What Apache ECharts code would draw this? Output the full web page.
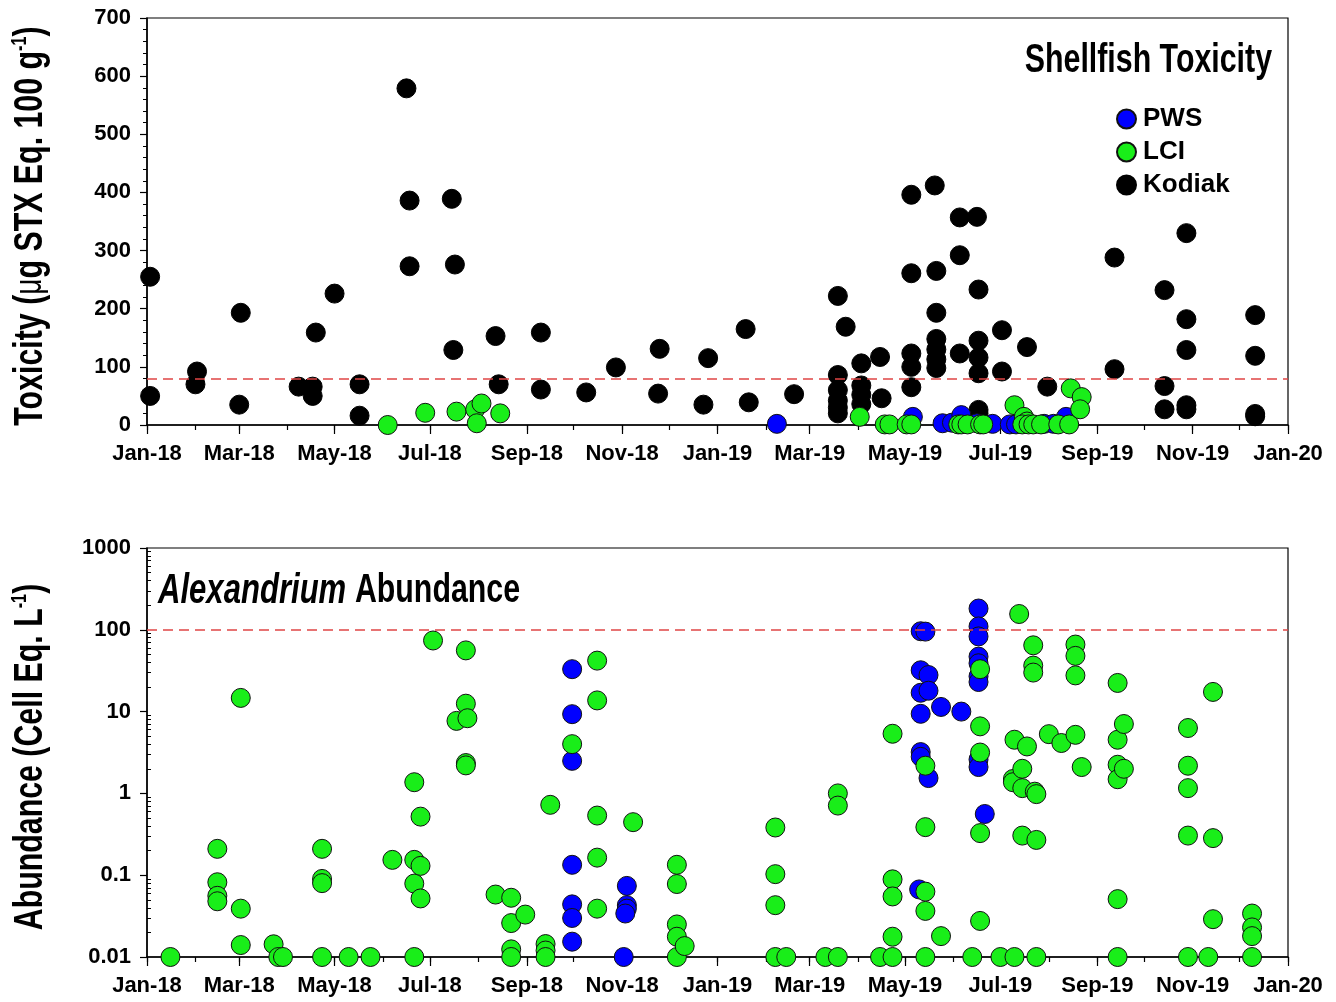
<!DOCTYPE html>
<html><head><meta charset="utf-8">
<script src="https://cdn.jsdelivr.net/npm/echarts@6/dist/echarts.min.js"></script>
<style>html,body{margin:0;padding:0;background:#fff}#c{width:1336px;height:1002px}</style>
</head><body><div id="c"></div>
<script>
// ---------- axis ticks / labels ----------
const monthTicks = ['2018-01-01','2018-02-01','2018-03-01','2018-04-01','2018-05-01','2018-06-01','2018-07-01','2018-08-01','2018-09-01','2018-10-01','2018-11-01','2018-12-01',
  '2019-01-01','2019-02-01','2019-03-01','2019-04-01','2019-05-01','2019-06-01','2019-07-01','2019-08-01','2019-09-01','2019-10-01','2019-11-01','2019-12-01','2020-01-01'];
const labelDates = ['2018-01-01','2018-03-01','2018-05-01','2018-07-01','2018-09-01','2018-11-01','2019-01-01','2019-03-01','2019-05-01','2019-07-01','2019-09-01','2019-11-01','2020-01-01'];
const labelTexts = ['Jan-18','Mar-18','May-18','Jul-18','Sep-18','Nov-18','Jan-19','Mar-19','May-19','Jul-19','Sep-19','Nov-19','Jan-20'];
const toxTicks = [0,100,200,300,400,500,600,700];
const abTicks = [0.01,0.1,1,10,100,1000];
const abTickLabels = ['0.01','0.1','1','10','100','1000'];
const abMinorTicks = [0.02,0.03,0.04,0.05,0.06,0.07,0.08,0.09,0.2,0.3,0.4,0.5,0.6,0.7,0.8,0.9,2,3,4,5,6,7,8,9,20,30,40,50,60,70,80,90,200,300,400,500,600,700,800,900];
const toxLimit = 80;
const abLimit = 100;

// ---------- Shellfish toxicity ----------
const kodiakDates = ['2018-01-03','2018-01-03','2018-02-02','2018-02-01','2018-03-02','2018-03-01','2018-04-08','2018-04-17','2018-04-17','2018-04-19',
  '2018-05-01','2018-05-17','2018-05-17','2018-06-16','2018-06-18','2018-06-18','2018-07-15','2018-07-17','2018-07-16','2018-08-12','2018-08-14',
  '2018-09-10','2018-09-10','2018-10-09','2018-10-28','2018-11-25','2018-11-24','2018-12-26','2018-12-23','2019-01-19','2019-01-21','2019-02-19',
  '2019-03-19','2019-03-19','2019-03-19','2019-03-19','2019-03-19','2019-03-19','2019-03-24',
  '2019-04-03','2019-04-03','2019-04-03','2019-04-03','2019-04-15','2019-04-16',
  '2019-05-05','2019-05-05','2019-05-05','2019-05-05','2019-05-05','2019-05-20',
  '2019-05-21','2019-05-21','2019-05-21','2019-05-21','2019-05-21','2019-05-21',
  '2019-06-05','2019-06-05','2019-06-05','2019-06-16','2019-06-17','2019-06-17','2019-06-17','2019-06-17','2019-06-17','2019-06-17',
  '2019-07-02','2019-07-02','2019-07-18','2019-07-31','2019-09-12','2019-09-12',
  '2019-10-14','2019-10-14','2019-10-14','2019-10-28','2019-10-28','2019-10-28','2019-10-28','2019-10-28',
  '2019-12-11','2019-12-11','2019-12-11','2019-12-11'];
const kodiakTox = [255,50,92,70,193,35,66,66,50,159,
  226,70,16,579,386,273,389,276,129,153,70,
  159,61,56,99,131,54,115,35,165,39,53,
  222,86,60,42,30,20,169,
  106,68,52,36,117,46,
  396,261,123,100,65,412,
  265,193,148,130,113,98,
  357,292,123,358,233,145,116,89,26,20,
  163,92,134,66,288,96,
  232,67,27,330,182,129,34,27,
  189,119,19,15];

const pwsToxDates = ['2019-02-08','2019-05-06','2019-05-25','2019-05-31','2019-06-06','2019-06-16','2019-06-26','2019-07-07','2019-07-11','2019-07-29','2019-08-04','2019-08-12'];
const pwsTox = [2,14,3,4,17,3,2,1,1,2,2,14];

const lciToxDates = ['2018-06-04','2018-06-28','2018-07-18','2018-07-30','2018-08-03','2018-07-31','2018-08-15',
  '2019-04-02','2019-04-18','2019-04-21','2019-05-02','2019-05-05','2019-06-04','2019-06-06','2019-06-10','2019-06-18','2019-06-20',
  '2019-07-10','2019-07-16','2019-07-18','2019-07-15','2019-07-19','2019-07-22','2019-07-27','2019-08-07','2019-08-14','2019-08-15','2019-08-22','2019-08-21'];
const lciTox = [0,21,23,27,37,3,20,
  14,1,1,1,1,1,1,1,1,1,
  34,14,6,1,1,1,1,1,1,63,48,27];

// ---------- Alexandrium abundance ----------
const pwsAbDates = ['2018-09-30','2018-09-30','2018-09-30','2018-09-30','2018-09-30','2018-09-30','2018-09-30',
  '2018-11-04','2018-11-04','2018-11-04','2018-11-03','2018-11-02',
  '2019-05-11','2019-05-11','2019-05-11','2019-05-11','2019-05-11','2019-05-11','2019-05-14','2019-05-16','2019-05-16','2019-05-16','2019-05-10',
  '2019-05-24','2019-06-06',
  '2019-06-17','2019-06-17','2019-06-17','2019-06-17','2019-06-17','2019-06-17','2019-06-17','2019-06-17','2019-06-17','2019-06-21'];
const pwsAb = [33,9.3,2.5,0.134,0.044,0.030,0.0154,
  0.074,0.043,0.039,0.034,0.01,
  96,32,17,9.4,3.2,2.8,95,28,18,1.54,0.067,
  11.4,10,
  182,110,83,47,39,27,23,2.6,2.1,0.56];

const lciAbDates = ['2018-01-16','2018-02-15','2018-02-15','2018-02-15','2018-02-15','2018-03-02','2018-03-02','2018-03-02','2018-03-23','2018-03-26','2018-03-29',
  '2018-04-23','2018-04-23','2018-04-23','2018-04-23','2018-05-10','2018-05-24','2018-06-07',
  '2018-06-21','2018-06-21','2018-06-21','2018-06-21','2018-06-25','2018-06-25','2018-06-25','2018-07-03','2018-07-18',
  '2018-07-24','2018-07-24','2018-07-24','2018-07-24','2018-07-25','2018-08-12',
  '2018-08-22','2018-08-22','2018-08-22','2018-08-22','2018-08-31','2018-09-13','2018-09-13','2018-09-13','2018-09-16','2018-09-30',
  '2018-10-16','2018-10-16','2018-10-16','2018-10-16','2018-10-16','2018-11-08',
  '2018-12-06','2018-12-06','2018-12-06','2018-12-06','2018-12-06','2018-12-11',
  '2019-02-07','2019-02-07','2019-02-07','2019-02-07','2019-02-14','2019-03-11','2019-03-19','2019-03-19','2019-03-19','2019-04-15',
  '2019-04-23','2019-04-23','2019-04-23','2019-04-23','2019-04-23',
  '2019-05-14','2019-05-14','2019-05-14','2019-05-14','2019-05-14','2019-05-24','2019-06-13',
  '2019-06-18','2019-06-18','2019-06-18','2019-06-18','2019-06-18','2019-07-01','2019-07-09','2019-07-09','2019-07-10','2019-07-10','2019-07-13',
  '2019-07-15','2019-07-15','2019-07-15','2019-07-18','2019-07-22','2019-07-22','2019-07-22','2019-07-23','2019-07-24','2019-07-24','2019-07-24',
  '2019-08-01','2019-08-09','2019-08-18','2019-08-18','2019-08-18','2019-08-18','2019-08-22',
  '2019-09-14','2019-09-14','2019-09-14','2019-09-14','2019-09-14','2019-09-14','2019-09-18','2019-09-18',
  '2019-10-29','2019-10-29','2019-10-29','2019-10-29','2019-10-29','2019-11-11','2019-11-14','2019-11-14','2019-11-14',
  '2019-12-09','2019-12-09','2019-12-09','2019-12-09'];
const lciAb = [0.01,0.21,0.082,0.056,0.048,14.7,0.039,0.014,0.0143,0.01,0.01,
  0.21,0.09,0.08,0.01,0.01,0.01,0.154,
  1.37,0.154,0.079,0.01,0.52,0.13,0.052,74,7.7,
  56,12.5,2.35,2.2,8.3,0.058,
  0.053,0.026,0.0124,0.01,0.033,0.0144,0.012,0.01,0.725,4.0,
  42,13.7,0.536,0.164,0.039,0.445,
  0.134,0.078,0.025,0.0177,0.01,0.0136,
  0.383,0.103,0.043,0.01,0.01,0.01,1.0,0.71,0.01,0.01,
  5.36,0.089,0.055,0.0177,0.01,
  2.18,0.387,0.063,0.0366,0.01,0.018,0.01,
  33,6.6,3.16,0.327,0.0276,0.01,1.5,1.37,4.53,0.01,156,
  2.0,1.16,0.305,3.75,64.6,36.5,30,1.05,0.98,0.27,0.01,
  5.3,4.13,66,48,27.7,5.2,2.1,
  22.4,4.53,2.24,1.49,0.051,0.01,7.05,2.0,
  6.3,2.18,1.16,0.305,0.01,0.01,17.4,0.284,0.029,
  0.034,0.023,0.018,0.01];

// ---------- text ----------
const toxTitle = 'Shellfish Toxicity';
const abTitleItalic = 'Alexandrium';
const abTitleRest = 'Abundance';
const toxYName = ['Toxicity (', 'μ', 'g STX Eq. 100 g', '-1', ')'];
const abYName = ['Abundance (Cell Eq. L', '-1', ')'];

// ---------- helpers ----------
const T0 = Date.UTC(2018,0,1);
function dayOf(s){ const p = s.split('-').map(Number); return (Date.UTC(p[0],p[1]-1,p[2]) - T0)/86400000; }
function pairs(dates, vals){ return dates.map((d,i)=>[dayOf(d), vals[i]]); }
const monthTickDays = monthTicks.map(dayOf);
const labelDays = labelDates.map(dayOf);
const SANS = "'Liberation Sans',Arial,sans-serif";
const BLUE = '#0000FF', GREEN = '#19EE19';
const NARROW_SCALE = 0.74;

function xMinor(gi){
  return {type:'value', gridIndex:gi, position:'bottom', min:0, max:730,
    axisLine:{show:true, onZero:false, lineStyle:{color:'#000', width:1.5}},
    axisTick:{show:true, customValues:monthTickDays, length:5, lineStyle:{color:'#000', width:1.2}},
    axisLabel:{show:false}, splitLine:{show:false}};
}
function xMajor(gi){
  return {type:'value', gridIndex:gi, position:'bottom', min:0, max:730,
    axisLine:{show:false, onZero:false},
    axisTick:{show:true, customValues:labelDays, length:9, lineStyle:{color:'#000', width:1.2}},
    axisLabel:{customValues:labelDays, margin:18, fontFamily:SANS, fontWeight:'bold', fontSize:22, color:'#000',
      formatter:(v)=>{ const i = labelDays.findIndex(d=>Math.abs(d-v)<0.5); return i>=0 ? labelTexts[i] : ''; }},
    splitLine:{show:false}};
}
const limitLine = {color:'#E04545', width:1.5, type:[10,6]};
const ptStyle = (c)=>({color:c, borderColor:'#111', borderWidth:1, opacity:1});

function narrowText(x, y, rot, align, rich, text){
  return {type:'text', x:x, y:y, rotation:rot, scaleX:NARROW_SCALE, silent:true, z:10,
    style:{text:text, rich:rich, align:align, verticalAlign:'middle', fontFamily:SANS, fontWeight:'bold', fontSize:42, fill:'#000'}};
}
const richBase = {
  a:{fontFamily:SANS, fontWeight:'bold', fontSize:41, fill:'#000', lineHeight:44},
  it:{fontFamily:SANS, fontWeight:'bold', fontStyle:'italic', fontSize:42, fill:'#000', lineHeight:44},
  m:{fontFamily:SANS, fontSize:38, fill:'#000', lineHeight:44},
  s:{fontFamily:SANS, fontWeight:'bold', fontSize:22, fill:'#000', verticalAlign:'top', lineHeight:22}
};

const option = {
  backgroundColor:'#fff',
  animation:false,
  graphic:[
    narrowText(1272, 61, 0, 'right', richBase, '{a|' + toxTitle + '}'),
    narrowText(158, 591, 0, 'left', richBase, '{it|' + abTitleItalic + '} {a|' + abTitleRest + '}'),
    narrowText(31, 226, Math.PI/2, 'center', richBase,
      '{a|' + toxYName[0] + '}{m|' + toxYName[1] + '}{a|' + toxYName[2] + '}{s|' + toxYName[3] + '}{a|' + toxYName[4] + '}'),
    narrowText(31, 757, Math.PI/2, 'center', richBase,
      '{a|' + abYName[0] + '}{s|' + abYName[1] + '}{a|' + abYName[2] + '}')
  ],
  legend:{data:['PWS','LCI','Kodiak'], orient:'vertical', left:1116, top:104, padding:0, itemWidth:19, itemHeight:19, itemGap:3,
    icon:'circle', selectedMode:false,
    textStyle:{fontFamily:SANS, fontWeight:'bold', fontSize:26, lineHeight:30, color:'#000', padding:[0,0,0,2]}},
  grid:[
    {left:147, right:48, top:18, height:407, show:true, borderColor:'#000', borderWidth:1.2, backgroundColor:'transparent', outerBoundsMode:'none', containLabel:false},
    {left:147, right:48, top:548, height:409, show:true, borderColor:'#000', borderWidth:1.2, backgroundColor:'transparent', outerBoundsMode:'none', containLabel:false}
  ],
  xAxis:[xMinor(0), xMajor(0), xMinor(1), xMajor(1)],
  yAxis:[
    {type:'value', gridIndex:0, min:0, max:700, interval:100,
     axisLine:{show:true, lineStyle:{color:'#000', width:1.5}},
     axisTick:{show:true, length:7, lineStyle:{color:'#000', width:1.2}},
     minorTick:{show:true, splitNumber:5, length:4, lineStyle:{color:'#000', width:1}},
     axisLabel:{margin:16, fontFamily:SANS, fontWeight:'bold', fontSize:22, color:'#000',
       formatter:(v)=>{ const i = toxTicks.indexOf(v); return i>=0 ? String(toxTicks[i]) : ''; }},
     splitLine:{show:false}},
    {type:'log', logBase:10, gridIndex:1, min:0.01, max:1000,
     axisLine:{show:true, lineStyle:{color:'#000', width:1.5}},
     axisTick:{show:true, customValues:abTicks, length:7, lineStyle:{color:'#000', width:1.2}},
     axisLabel:{customValues:abTicks, margin:16, fontFamily:SANS, fontWeight:'bold', fontSize:22, color:'#000',
       formatter:(v)=>{ let i=-1; abTicks.forEach((t,k)=>{ if(Math.abs(Math.log10(v)-Math.log10(t))<1e-6) i=k; }); return i>=0 ? abTickLabels[i] : ''; }},
     splitLine:{show:false}},
    {type:'log', logBase:10, gridIndex:1, min:0.01, max:1000,
     axisLine:{show:false},
     axisTick:{show:true, customValues:abMinorTicks, length:4, lineStyle:{color:'#000', width:1}},
     axisLabel:{show:false}, splitLine:{show:false}}
  ],
  series:[
    {type:'scatter', name:'limitTop', xAxisIndex:1, yAxisIndex:0, data:[], z:1,
     markLine:{silent:true, symbol:['none','none'], label:{show:false}, lineStyle:limitLine, data:[{yAxis:toxLimit}]}},
    {type:'scatter', name:'Kodiak', xAxisIndex:1, yAxisIndex:0, z:3, symbolSize:19,
     itemStyle:{color:'#000', borderColor:'#000', borderWidth:1, opacity:1}, data:pairs(kodiakDates, kodiakTox)},
    {type:'scatter', name:'PWS', xAxisIndex:1, yAxisIndex:0, z:4, symbolSize:19,
     itemStyle:ptStyle(BLUE), data:pairs(pwsToxDates, pwsTox)},
    {type:'scatter', name:'LCI', xAxisIndex:1, yAxisIndex:0, z:5, symbolSize:19,
     itemStyle:ptStyle(GREEN), data:pairs(lciToxDates, lciTox)},
    {type:'scatter', name:'limitBottom', xAxisIndex:3, yAxisIndex:1, data:[], z:1,
     markLine:{silent:true, symbol:['none','none'], label:{show:false}, lineStyle:limitLine, data:[{yAxis:abLimit}]}},
    {type:'scatter', name:'PWS', xAxisIndex:3, yAxisIndex:1, z:4, symbolSize:19,
     itemStyle:ptStyle(BLUE), data:pairs(pwsAbDates, pwsAb)},
    {type:'scatter', name:'LCI', xAxisIndex:3, yAxisIndex:1, z:5, symbolSize:19,
     itemStyle:ptStyle(GREEN), data:pairs(lciAbDates, lciAb)}
  ]
};
const chart = echarts.init(document.getElementById('c'), null, {renderer:'canvas'});
chart.setOption(option);
</script></body></html>
